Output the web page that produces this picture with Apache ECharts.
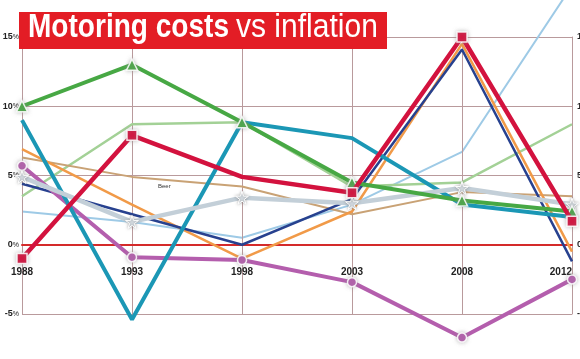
<!DOCTYPE html>
<html>
<head>
<meta charset="utf-8">
<script src="https://cdn.jsdelivr.net/npm/echarts@6/dist/echarts.min.js"></script>
<style>
html,body{margin:0;padding:0;background:#fff;overflow:hidden;}
#c{width:580px;height:359px;}
</style>
</head>
<body>
<div id="c"></div>
<script>
var years = ['1988','1993','1998','2003','2008','2012'];
var yTicks = [-5, 0, 5, 10, 15];

var green      = [10.0, 13.0, 8.85, 4.5, 3.2, 2.4];
var teal       = [9.0, -5.4, 8.85, 7.7, 2.9, 2.0];
var crimson    = [-1.0, 7.9, 4.9, 3.75, 15.0, 1.7];
var purple     = [5.7, -0.9, -1.1, -2.7, -6.7, -2.5];
var navy       = [4.4, 2.2, 0.0, 3.3, 14.1, -1.2];
var orange     = [6.9, 2.9, -1.0, 2.4, 14.5, -0.5];
var lightGreen = [3.5, 8.7, 8.85, 4.2, 4.5, 8.7];
var tan        = [6.3, 4.9, 4.2, 2.2, 3.8, 3.5];
var lightBlue  = [2.4, 1.65, 0.5, 2.9, 6.7, 18.7];
var grey       = [4.9, 1.65, 3.4, 3.0, 4.1, 2.9];

var titleBold = 'Motoring costs';
var titleReg = 'vs inflation';
var noteText = 'Beer';

var chart = echarts.init(document.getElementById('c'), null, {renderer:'canvas', width:580, height:359});
var gridCol = '#b99a9c';
var font = '"Liberation Sans", Arial, sans-serif';

function yFmt(v){ return '{n|' + v + '}{p|%}'; }
var yRich = {
  n:{fontFamily:font, fontWeight:'bold', fontSize:9, color:'#222'},
  p:{fontFamily:font, fontSize:7, color:'#222'}
};

function line(name, data, color, width, z, extra){
  var s = {
    name:name, type:'line', data:data, z:z,
    lineStyle:{color:color, width:width},
    itemStyle:{color:color},
    symbol:'none', silent:true, clip:false
  };
  if (extra) for (var k in extra) s[k] = extra[k];
  return s;
}
var halo = {borderColor:'rgba(255,255,255,0.85)', borderWidth:1.5, shadowBlur:4, shadowColor:'rgba(150,150,150,0.6)'};
function mk(color){ var o = {color:color}; for (var k in halo) o[k]=halo[k]; return o; }

var option = {
  animation:false,
  backgroundColor:'#ffffff',
  grid:{left:22, right:8, top:37, bottom:45, containLabel:false, outerBoundsMode:'none'},
  xAxis:{
    type:'category', data:years, boundaryGap:false,
    position:'bottom', offset:-69,
    axisLine:{show:true, onZero:false, lineStyle:{color:'#d42a2a', width:2}},
    axisTick:{show:false},
    axisLabel:{margin:22, fontFamily:font, fontWeight:'bold', fontSize:10, color:'#222', alignMaxLabel:'right'},
    splitLine:{show:true, lineStyle:{color:gridCol, width:1}},
    z:3
  },
  yAxis:[{
    type:'value', min:yTicks[0], max:yTicks[yTicks.length-1], interval:5,
    axisLine:{show:false}, axisTick:{show:false},
    axisLabel:{margin:3, formatter:yFmt, rich:yRich},
    splitLine:{show:true, lineStyle:{color:gridCol, width:1}}
  },{
    type:'value', position:'right', min:yTicks[0], max:yTicks[yTicks.length-1], interval:5,
    axisLine:{show:true, lineStyle:{color:gridCol, width:1}}, axisTick:{show:false},
    axisLabel:{margin:5, formatter:yFmt, rich:yRich, align:'left'},
    splitLine:{show:false}
  }],
  series:[
    line('Light blue', lightBlue, '#9ecae6', 2, 2),
    line('Light green', lightGreen, '#a3d196', 2.5, 3),
    line('Beer', tan, '#c9a275', 2, 4),
    line('Orange', orange, '#f19a48', 2.5, 5),
    line('Navy', navy, '#27418f', 2.5, 6),
    line('Purple', purple, '#b45ead', 4, 7, {symbol:'circle', symbolSize:9, showAllSymbol:true, itemStyle:mk('#b45ead')}),
    line('Teal', teal, '#1b97b5', 4, 8),
    line('Grey', grey, '#c3cfd8', 4.5, 9, {symbol:'path://M50,0 L61,35 L98,35 L68,57 L79,91 L50,70 L21,91 L32,57 L2,35 L39,35 Z', symbolSize:13, showAllSymbol:true, itemStyle:{color:'#d6dde3', borderColor:'#ffffff', borderWidth:1, shadowBlur:3, shadowColor:'rgba(120,120,120,0.6)'}}),
    line('Green', green, '#47a844', 4, 10, {symbol:'triangle', symbolSize:11, showAllSymbol:true, itemStyle:mk('#47a844')}),
    line('Crimson', crimson.map(function(v,i){ return i===2 ? {value:v, symbol:'none'} : v; }), '#d3123e', 4.5, 11, {symbol:'rect', symbolSize:10, showAllSymbol:true, itemStyle:mk('#d3123e')})
  ],
  graphic:[
    {type:'rect', z:100, shape:{x:19, y:12, width:368, height:37}, style:{fill:'#e31d25'}},
    {type:'text', z:101, x:28, y:44, scaleX:0.85, style:{text:titleBold, fill:'#fff', fontFamily:font, fontWeight:'bold', fontSize:33, textVerticalAlign:'bottom', verticalAlign:'bottom'}},
    {type:'text', z:101, x:236, y:44, scaleX:0.91, style:{text:titleReg, fill:'#fff', fontFamily:font, fontSize:33, textVerticalAlign:'bottom', verticalAlign:'bottom'}},
    {type:'text', z:50, x:158, y:183, style:{text:noteText, fill:'#333', fontFamily:font, fontSize:6}}
  ]
};
chart.setOption(option);
</script>
</body>
</html>
